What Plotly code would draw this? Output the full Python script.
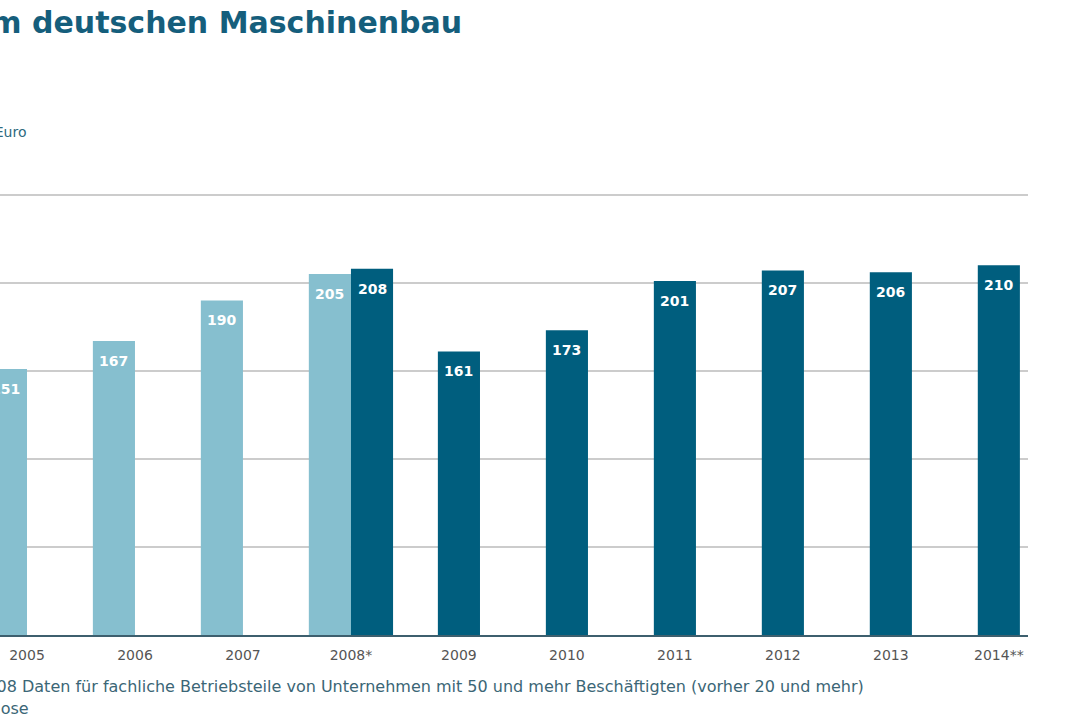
import plotly.graph_objects as go

# ---- data ----
categories = ["2005", "2006", "2007", "2008*", "2009", "2010", "2011", "2012", "2013", "2014**"]
old_years = ["2005", "2006", "2007", "2008*"]
old_values = [151, 167, 190, 205]
new_years = ["2008*", "2009", "2010", "2011", "2012", "2013", "2014**"]
new_values = [208, 161, 173, 201, 207, 206, 210]
y_ticks = [0, 50, 100, 150, 200, 250]

title_text = "Produktivität im deutschen Maschinenbau"
unit_text = "Umsatz je Beschäftigten in 1.000 Euro"
note1 = "*Ab 2008 Daten für fachliche Betriebsteile von Unternehmen mit 50 und mehr Beschäftigten (vorher 20 und mehr)"
note2 = "**Prognose"

# ---- layout helpers ----
W, H = 1080, 720
ML, MR, MT, MB = 0, 52, 193, 85
PW, PH = W - ML - MR, H - MT - MB
X_RANGE = [-0.25, 9.27]
Y_RANGE = [0, 251]

def px_x(px):
    return (px - ML) / PW

def px_y(py):
    return (H - MB - py) / PH

LIGHT = "#86bfcf"
DARK = "#005e7e"
FONT = "DejaVu Sans, Verdana, sans-serif"
bw = 0.39
bw_px = bw * PW / (X_RANGE[1] - X_RANGE[0])

old_offset = [-bw] * len(old_years)
new_offset = [0 if c == "2008*" else -bw / 2 for c in new_years]
old_shift = [-bw_px / 2] * len(old_years)
new_shift = [bw_px / 2 if c == "2008*" else 0 for c in new_years]

fig = go.Figure()
fig.add_trace(go.Bar(
    x=old_years, y=old_values, width=bw, offset=old_offset,
    marker=dict(color=LIGHT, line=dict(width=0)),
    showlegend=False, hoverinfo="x+y",
))
fig.add_trace(go.Bar(
    x=new_years, y=new_values, width=bw, offset=new_offset,
    marker=dict(color=DARK, line=dict(width=0)),
    showlegend=False, hoverinfo="x+y",
))

# value labels inside the bar tops (category index used as x on the category axis)
for xs, ys, shifts in ((old_years, old_values, old_shift), (new_years, new_values, new_shift)):
    for c, v, s in zip(xs, ys, shifts):
        fig.add_annotation(x=categories.index(c), y=v, xref="x", yref="y", text=str(v),
                           showarrow=False, xshift=s, yshift=-20,
                           xanchor="center", yanchor="middle",
                           font=dict(size=14, color="white", family=FONT, weight="bold"))

fig.update_layout(
    width=W, height=H, barmode="overlay",
    margin=dict(l=ML, r=MR, t=MT, b=MB),
    paper_bgcolor="white", plot_bgcolor="white",
    font=dict(family=FONT, color="#555555"),
    xaxis=dict(
        type="category", categoryorder="array", categoryarray=categories,
        range=X_RANGE, showgrid=False, showline=True, linecolor="#3d5f6e",
        linewidth=2, ticks="", tickfont=dict(size=14, color="#555555"),
        ticklabelstandoff=6,
    ),
    yaxis=dict(
        range=Y_RANGE, tickvals=y_ticks, showticklabels=False, showgrid=True,
        gridcolor="#cccccc", gridwidth=2, zeroline=False, showline=False,
    ),
)

fig.add_annotation(text=title_text, xref="paper", yref="paper",
                   x=px_x(464), y=px_y(22), xanchor="right", yanchor="middle",
                   showarrow=False, font=dict(size=30, color="#155e7c", family=FONT, weight="bold"))
fig.add_annotation(text=unit_text, xref="paper", yref="paper",
                   x=px_x(29), y=px_y(132), xanchor="right", yanchor="middle",
                   showarrow=False, font=dict(size=14, color="#2e6a80", family=FONT))
fig.add_annotation(text=note1, xref="paper", yref="paper",
                   x=px_x(866), y=px_y(686), xanchor="right", yanchor="middle",
                   showarrow=False, font=dict(size=16, color="#3b6676", family=FONT))
fig.add_annotation(text=note2, xref="paper", yref="paper",
                   x=px_x(31), y=px_y(708), xanchor="right", yanchor="middle",
                   showarrow=False, font=dict(size=16, color="#3b6676", family=FONT))

fig.write_html("out.html")
